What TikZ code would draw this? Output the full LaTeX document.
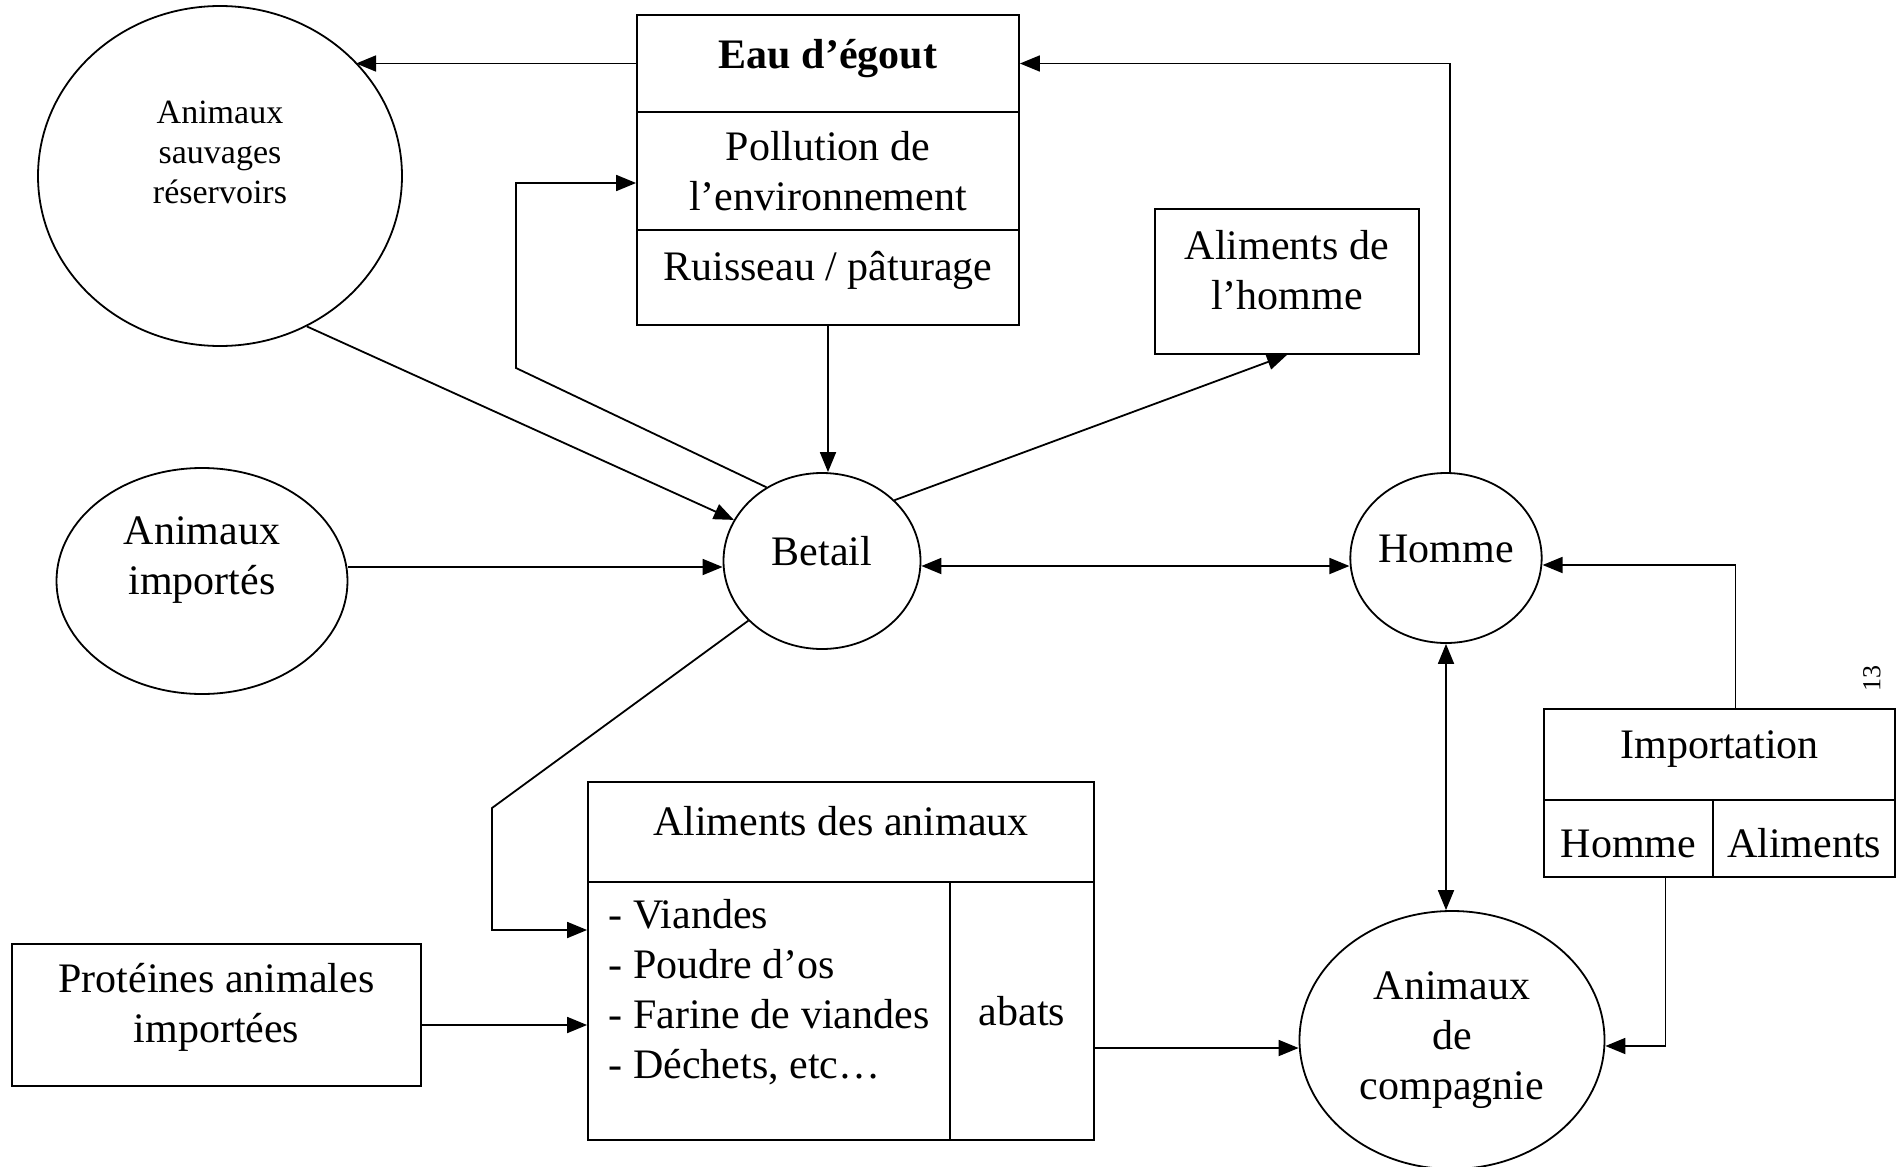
\documentclass[tikz,border=0pt]{standalone}
\usepackage{fontspec}
\setmainfont{Liberation Serif}
\usetikzlibrary{shapes.geometric}
\usetikzlibrary{arrows.meta}

\begin{document}
\begin{tikzpicture}[x = 0.5pt, y = -0.5pt,
		line width = 0.9pt,
		> = {Triangle[length = 10pt, width = 8pt]},
		cellule/.style = {draw = black,
			shape = rectangle,
			inner sep = 0pt,
			align = center,
			font = \fontsize{21}{25}\selectfont},
		rond/.style = {draw = black,
			shape = ellipse,
			inner sep = 0pt,
			align = center,
			font = \fontsize{21}{25}\selectfont}]

	\useasboundingbox (0,0) rectangle (1902,1167);

	\node[rond,
		  minimum width = 182pt,
		  minimum height = 170pt,
		  text depth = 24pt,
		  font = \fontsize{17}{20}\selectfont](sauvages) at (220,176){Animaux\\sauvages\\réservoirs};
	\node[rond,
		  minimum width = 145.5pt,
		  minimum height = 113pt,
		  text depth = 25pt](importes) at (202,581){Animaux\\importés};
	\node[rond,
		  minimum width = 98.5pt,
		  minimum height = 88pt,
		  text depth = 10pt](betail) at (822,561){Betail};
	\node[rond,
		  minimum width = 95.5pt,
		  minimum height = 85pt,
		  text depth = 9pt](homme) at (1446,558){Homme};
	\node[rond,
		  minimum width = 152.5pt,
		  minimum height = 129pt](compagnie) at (1452,1040){Animaux\\de\\compagnie};

	\node[cellule,
		  minimum width = 191pt,
		  minimum height = 48.5pt,
		  text depth = 10pt,
		  font = \fontsize{21}{25}\selectfont\bfseries](egout) at (828,63.5){Eau d’égout};
	\node[cellule,
		  minimum width = 191pt,
		  minimum height = 59pt](pollution) at (828,171){Pollution de\\l’environnement};
	\node[cellule,
		  minimum width = 191pt,
		  minimum height = 47.5pt,
		  text depth = 12pt](ruisseau) at (828,277.5){Ruisseau / pâturage};

	\node[cellule,
		  minimum width = 132pt,
		  minimum height = 72.5pt,
		  text depth = 12pt](alimhomme) at (1287,281.5){Aliments de\\l’homme};

	\node[cellule,
		  minimum width = 253pt,
		  minimum height = 50pt,
		  text depth = 11pt](alimtitre) at (841,832){Aliments des animaux};
	\node[cellule,
		  align = left,
		  minimum width = 181pt,
		  minimum height = 129pt,
		  text depth = 22pt](viandes) at (769,1011){- Viandes\\- Poudre d’os\\- Farine de viandes\\- Déchets, etc…};
	\node[cellule,
		  minimum width = 72pt,
		  minimum height = 129pt](abats) at (1022,1011){abats};

	\node[cellule,
		  minimum width = 204.5pt,
		  minimum height = 71pt,
		  text depth = 12pt](proteines) at (216.5,1015){Protéines animales\\importées};

	\node[cellule,
		  minimum width = 175.5pt,
		  minimum height = 45.5pt,
		  text depth = 10pt](import) at (1719.5,754.5){Importation};
	\node[cellule,
		  minimum width = 84.5pt,
		  minimum height = 38.5pt,
		  text height = 19.5pt](imphomme) at (1628.5,838.5){Homme};
	\node[cellule,
		  minimum width = 91pt,
		  minimum height = 38.5pt,
		  text height = 19.5pt](impaliments) at (1804,838.5){Aliments};

	\node[rotate = 90,
		  font = \fontsize{13}{15}\selectfont](page) at (1872,678){13};

	\coordinate (coude) at (516,368);
	\coordinate (coin) at (492,808);

	\draw[->] (egout.west) -- (sauvages.40 |- egout.west);
	\draw[->] ([xshift = 2pt]homme.north) |- (egout.east);
	\draw[->] (betail.127) -- (coude) |- ([yshift = -6pt]pollution.west);
	\draw[->] (sauvages.-60) -- (betail.155);
	\draw[->] (ruisseau.south) -- (ruisseau.south |- betail.north);
	\draw[->] (betail.40) -- (alimhomme.south);

	\draw[->] ([yshift = 7pt]importes.east) -- ([yshift = 7pt]importes.east -| betail.west);
	\draw[<->] ([yshift = -2.5pt]betail.east) -- ([yshift = -2.5pt]betail.east -| homme.west);

	\draw[->] (betail.219) -- (coin) |- ([yshift = 40.5pt]viandes.west);
	\draw[->] ([yshift = -5pt]proteines.east) -- ([yshift = -5pt]proteines.east -| viandes.west);
	\draw[->] ([yshift = -18.5pt]abats.east) -- ([yshift = -18.5pt]abats.east -| compagnie.west);

	\draw[<->] (homme.south) -- (homme.south |- compagnie.north);
	\draw[->] ([xshift = 8pt]import.north) |- ([yshift = -3.5pt]homme.east);
	\draw[->] ([xshift = 18.5pt]imphomme.south) |- ([yshift = -3pt]compagnie.east);

\end{tikzpicture}
\end{document}
